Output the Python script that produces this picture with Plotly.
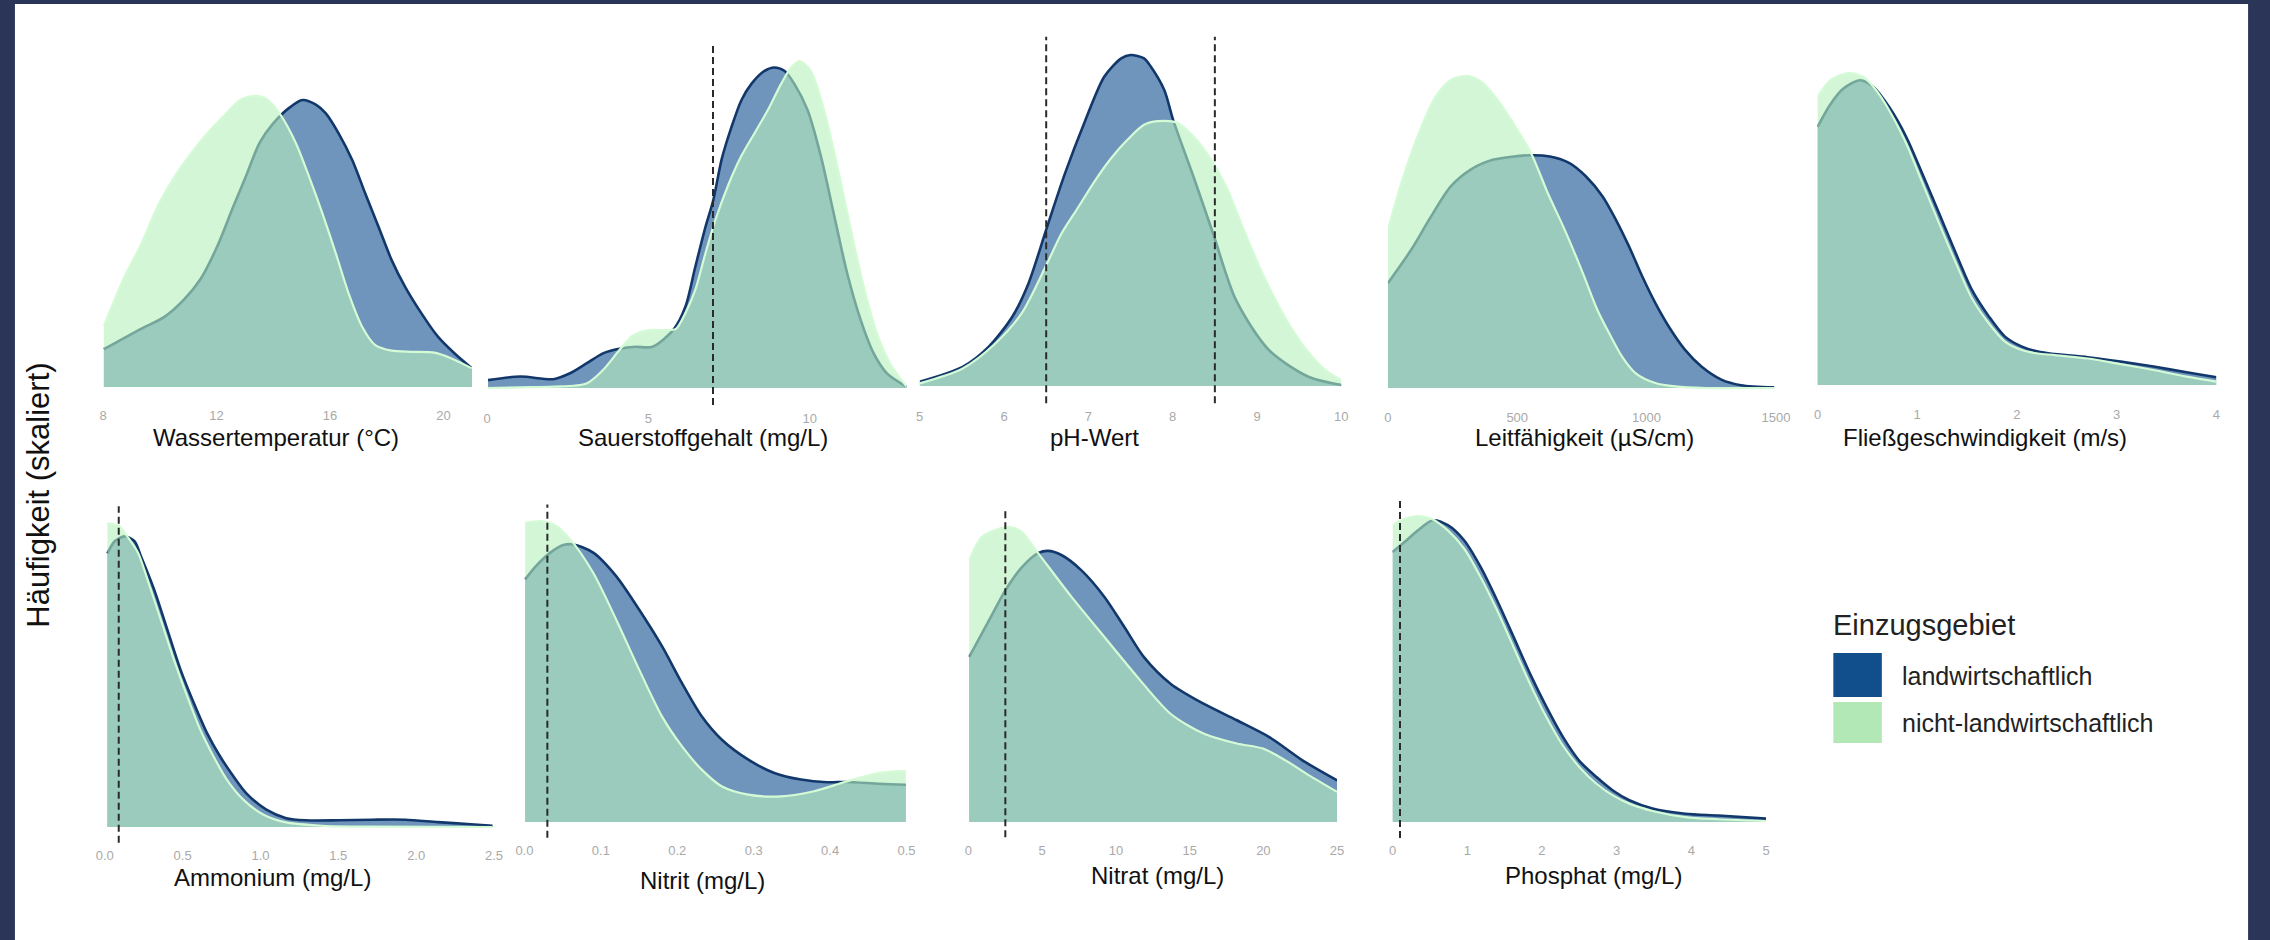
import plotly.graph_objects as go

# ------------------------------------------------------------------
# DATA  (heights = scaled density)
# ------------------------------------------------------------------
group_names = ["landwirtschaftlich", "nicht-landwirtschaftlich"]

titles = ["Wassertemperatur (°C)", "Sauerstoffgehalt (mg/L)", "pH-Wert",
          "Leitfähigkeit (µS/cm)", "Fließgeschwindigkeit (m/s)",
          "Ammonium (mg/L)", "Nitrit (mg/L)", "Nitrat (mg/L)", "Phosphat (mg/L)"]

# Wassertemperatur
wasser_x_lw = [8.03, 9.34, 10.15, 10.85, 11.43, 12.01, 12.59, 13.06, 13.52, 13.99, 14.57, 15.03,
               15.5, 15.85, 16.31, 16.78, 17.24, 17.71, 18.17, 18.64, 19.22, 19.8, 20.38, 21.0]
wasser_h_lw = [0.13, 0.20, 0.24, 0.30, 0.37, 0.48, 0.62, 0.73, 0.84, 0.905, 0.96, 0.986,
               0.97, 0.94, 0.87, 0.78, 0.665, 0.55, 0.436, 0.345, 0.253, 0.173, 0.116, 0.064]
wasser_x_nlw = [8.03, 8.76, 9.34, 9.92, 10.5, 11.08, 11.66, 12.24, 12.82, 13.29, 13.76, 14.22,
                14.8, 15.27, 15.73, 16.2, 16.66, 17.13, 17.59, 18.17, 18.87, 19.68, 20.26, 21.0]
wasser_h_nlw = [0.21, 0.38, 0.49, 0.62, 0.72, 0.80, 0.87, 0.93, 0.986, 1.0, 0.99, 0.94,
                0.837, 0.72, 0.597, 0.46, 0.32, 0.207, 0.144, 0.125, 0.121, 0.118, 0.099, 0.064]

# Sauerstoffgehalt
sauer_x_lw = [0.03, 1.03, 2.05, 2.57, 3.08, 3.59, 4.1, 4.61, 5.13, 5.79, 6.15, 6.45, 6.76, 7.01,
              7.27, 7.58, 7.88, 8.19, 8.6, 8.9, 9.21, 9.52, 9.93, 10.34, 10.75, 11.16, 11.57,
              11.98, 12.39, 13.0]
sauer_h_lw = [0.024, 0.035, 0.027, 0.045, 0.075, 0.106, 0.12, 0.126, 0.126, 0.18, 0.25, 0.37,
              0.49, 0.575, 0.70, 0.80, 0.88, 0.93, 0.97, 0.98, 0.97, 0.93, 0.85, 0.71, 0.53,
              0.35, 0.21, 0.106, 0.045, 0.004]
sauer_x_nlw = [0.03, 1.03, 2.05, 3.08, 3.59, 4.1, 4.51, 5.02, 5.53, 5.84, 6.15, 6.45, 6.76, 7.06,
               7.47, 7.88, 8.29, 8.7, 9.11, 9.42, 9.67, 10.03, 10.44, 10.85, 11.26, 11.67,
               12.08, 12.49, 13.0]
sauer_h_nlw = [0.0, 0.002, 0.004, 0.014, 0.055, 0.116, 0.16, 0.177, 0.177, 0.18, 0.23, 0.30,
               0.41, 0.51, 0.62, 0.71, 0.78, 0.85, 0.93, 0.98, 1.0, 0.97, 0.85, 0.68, 0.49,
               0.31, 0.167, 0.075, 0.004]

# pH-Wert
ph_x_lw = [5.0, 5.51, 5.82, 6.1, 6.29, 6.51, 6.72, 6.96, 7.19, 7.39, 7.5, 7.66, 7.74, 7.9,
           8.01, 8.25, 8.48, 8.75, 9.14, 9.61, 10.0]
ph_h_lw = [0.013, 0.058, 0.119, 0.21, 0.31, 0.48, 0.64, 0.80, 0.935, 0.99, 1.0, 0.99, 0.965,
           0.894, 0.80, 0.63, 0.46, 0.26, 0.109, 0.028, 0.003]
ph_x_nlw = [5.0, 5.51, 5.9, 6.21, 6.51, 6.68, 6.88, 7.07, 7.27, 7.46, 7.66, 7.82, 8.05, 8.25,
            8.44, 8.64, 8.83, 9.03, 9.22, 9.42, 9.62, 9.81, 10.0]
ph_h_nlw = [0.008, 0.053, 0.129, 0.22, 0.37, 0.46, 0.54, 0.617, 0.688, 0.743, 0.789, 0.80,
            0.796, 0.753, 0.69, 0.60, 0.48, 0.36, 0.26, 0.17, 0.099, 0.048, 0.018]

# Leitfähigkeit
leit_x_lw = [0, 90, 167, 243, 320, 409, 549, 626, 702, 766, 830, 881, 932, 983, 1034, 1085,
             1148, 1212, 1289, 1365, 1493]
leit_h_lw = [0.336, 0.443, 0.55, 0.646, 0.70, 0.732, 0.746, 0.742, 0.721, 0.678, 0.614, 0.54,
             0.454, 0.358, 0.272, 0.198, 0.123, 0.069, 0.027, 0.009, 0.002]
leit_x_nlw = [0, 57, 121, 185, 248, 312, 363, 427, 491, 555, 618, 682, 753, 810, 855, 906,
              957, 1034, 1111, 1230, 1493]
leit_h_nlw = [0.507, 0.67, 0.82, 0.935, 0.99, 1.0, 0.98, 0.92, 0.84, 0.75, 0.625, 0.51, 0.37,
              0.25, 0.176, 0.10, 0.048, 0.016, 0.005, 0.0, 0.0]

# Fließgeschwindigkeit
fliess_x_lw = [0, 0.13, 0.26, 0.43, 0.56, 0.72, 0.89, 1.05, 1.22, 1.39, 1.55, 1.72, 1.88,
               2.05, 2.21, 2.38, 2.71, 3.04, 3.37, 3.7, 4.0]
fliess_h_lw = [0.827, 0.90, 0.95, 0.977, 0.955, 0.89, 0.795, 0.678, 0.55, 0.42, 0.304, 0.219,
               0.155, 0.123, 0.107, 0.099, 0.089, 0.075, 0.059, 0.041, 0.025]
fliess_x_nlw = [0, 0.13, 0.31, 0.46, 0.59, 0.72, 0.89, 1.05, 1.22, 1.39, 1.55, 1.72, 1.88,
                2.05, 2.21, 2.38, 2.71, 3.04, 3.37, 3.7, 4.0]
fliess_h_nlw = [0.923, 0.977, 1.0, 0.987, 0.944, 0.88, 0.774, 0.65, 0.518, 0.39, 0.277, 0.197,
                0.139, 0.112, 0.101, 0.096, 0.085, 0.067, 0.048, 0.027, 0.011]

# Ammonium
amm_x_lw = [0.017, 0.064, 0.127, 0.191, 0.233, 0.318, 0.402, 0.487, 0.572, 0.657, 0.741,
            0.826, 0.911, 1.038, 1.165, 1.29, 1.5, 1.72, 1.93, 2.14, 2.35, 2.49]
amm_h_lw = [0.90, 0.94, 0.956, 0.94, 0.89, 0.78, 0.649, 0.517, 0.408, 0.309, 0.232, 0.167,
            0.11, 0.057, 0.029, 0.022, 0.022, 0.024, 0.024, 0.016, 0.009, 0.004]
amm_x_nlw = [0.017, 0.09, 0.153, 0.216, 0.275, 0.36, 0.445, 0.53, 0.614, 0.699, 0.784, 0.89,
             1.017, 1.165, 1.4, 1.72, 2.49]
amm_h_nlw = [1.0, 0.99, 0.95, 0.90, 0.814, 0.682, 0.55, 0.43, 0.32, 0.232, 0.156, 0.09,
             0.041, 0.015, 0.004, 0.001, 0.0]

# Nitrit
nitrit_x_lw = [0.001, 0.015, 0.034, 0.051, 0.064, 0.09, 0.12, 0.15, 0.18, 0.206, 0.232, 0.258,
               0.293, 0.327, 0.362, 0.396, 0.422, 0.465, 0.499]
nitrit_h_lw = [0.806, 0.85, 0.895, 0.92, 0.922, 0.895, 0.817, 0.706, 0.584, 0.462, 0.351,
               0.274, 0.207, 0.163, 0.141, 0.132, 0.133, 0.127, 0.124]
nitrit_x_nlw = [0.001, 0.02, 0.038, 0.06, 0.09, 0.12, 0.15, 0.18, 0.206, 0.232, 0.258, 0.293,
                0.336, 0.379, 0.422, 0.465, 0.499]
nitrit_h_nlw = [0.994, 1.0, 0.989, 0.939, 0.828, 0.673, 0.507, 0.351, 0.252, 0.174, 0.119,
                0.091, 0.085, 0.102, 0.135, 0.163, 0.169]

# Nitrat
nitrat_x_lw = [0.05, 1.4, 2.5, 3.63, 4.75, 5.4, 6.3, 7.66, 9.22, 10.57, 11.9, 13.7, 15.94,
               18.2, 20.4, 22.65, 25.0]
nitrat_h_lw = [0.56, 0.684, 0.785, 0.864, 0.912, 0.919, 0.905, 0.853, 0.763, 0.661, 0.559,
               0.469, 0.401, 0.345, 0.288, 0.209, 0.141]
nitrat_x_nlw = [0.05, 0.9, 2.06, 2.84, 3.63, 4.75, 6.99, 9.22, 11.45, 13.7, 15.94, 18.2, 19.97,
                21.5, 23.1, 25.0]
nitrat_h_nlw = [0.887, 0.966, 0.994, 1.0, 0.983, 0.91, 0.763, 0.627, 0.492, 0.367, 0.30, 0.266,
                0.249, 0.209, 0.158, 0.102]

# Phosphat
phos_x_lw = [0, 0.16, 0.34, 0.54, 0.74, 0.96, 1.18, 1.4, 1.62, 1.84, 2.06, 2.28, 2.5, 2.73,
             2.95, 3.17, 3.48, 3.92, 4.36, 5.0]
phos_h_lw = [0.882, 0.915, 0.953, 0.986, 0.97, 0.92, 0.833, 0.724, 0.605, 0.485, 0.376, 0.278,
             0.20, 0.147, 0.103, 0.071, 0.044, 0.027, 0.021, 0.011]
phos_x_nlw = [0, 0.16, 0.34, 0.52, 0.74, 0.96, 1.18, 1.4, 1.62, 1.84, 2.06, 2.28, 2.5, 2.73,
              2.95, 3.17, 3.48, 3.92, 4.36, 5.0]
phos_h_nlw = [0.97, 0.991, 1.0, 0.991, 0.953, 0.893, 0.80, 0.692, 0.572, 0.452, 0.343, 0.25,
              0.18, 0.125, 0.087, 0.06, 0.036, 0.016, 0.009, 0.003]

# Reference / threshold values (dashed lines)
thresholds = [[], [7.0], [6.5, 8.5], [], [], [0.09], [0.03], [2.5], [0.1]]

# Tick values and labels
tick_vals = [[8, 12, 16, 20], [0, 5, 10], [5, 6, 7, 8, 9, 10], [0, 500, 1000, 1500],
             [0, 1, 2, 3, 4], [0, 0.5, 1.0, 1.5, 2.0, 2.5], [0, 0.1, 0.2, 0.3, 0.4, 0.5],
             [0, 5, 10, 15, 20, 25], [0, 1, 2, 3, 4, 5]]
tick_text = [["8", "12", "16", "20"], ["0", "5", "10"], ["5", "6", "7", "8", "9", "10"],
             ["0", "500", "1000", "1500"], ["0", "1", "2", "3", "4"],
             ["0.0", "0.5", "1.0", "1.5", "2.0", "2.5"],
             ["0.0", "0.1", "0.2", "0.3", "0.4", "0.5"],
             ["0", "5", "10", "15", "20", "25"], ["0", "1", "2", "3", "4", "5"]]

x_ranges = [[8, 21], [0, 13], [5, 10], [0, 1500], [0, 4], [0, 2.5], [0, 0.5], [0, 25], [0, 5]]

series = [
    (wasser_x_lw, wasser_h_lw, wasser_x_nlw, wasser_h_nlw),
    (sauer_x_lw, sauer_h_lw, sauer_x_nlw, sauer_h_nlw),
    (ph_x_lw, ph_h_lw, ph_x_nlw, ph_h_nlw),
    (leit_x_lw, leit_h_lw, leit_x_nlw, leit_h_nlw),
    (fliess_x_lw, fliess_h_lw, fliess_x_nlw, fliess_h_nlw),
    (amm_x_lw, amm_h_lw, amm_x_nlw, amm_h_nlw),
    (nitrit_x_lw, nitrit_h_lw, nitrit_x_nlw, nitrit_h_nlw),
    (nitrat_x_lw, nitrat_h_lw, nitrat_x_nlw, nitrat_h_nlw),
    (phos_x_lw, phos_h_lw, phos_x_nlw, phos_h_nlw),
]

# ------------------------------------------------------------------
# LAYOUT GEOMETRY (pixels in a 2270 x 940 page)
# ------------------------------------------------------------------
W, H = 2270, 940
geom = [
    dict(px0=95.0, px1=467.7, base=387, s=291, tx=270, ty=438),
    dict(px0=483.0, px1=906.8, base=388, s=327, tx=701, ty=438),
    dict(px0=920.0, px1=1346.0, base=386, s=331, tx=1097, ty=438),
    dict(px0=1393.0, px1=1785.0, base=388, s=312, tx=1592, ty=438),
    dict(px0=1827.0, px1=2230.0, base=385, s=312, tx=1996, ty=438),
    dict(px0=96.7, px1=490.0, base=827, s=304, tx=266, ty=877),
    dict(px0=520.7, px1=906.7, base=822, s=301, tx=701, ty=880),
    dict(px0=969.3, px1=1341.7, base=822, s=295, tx=1160, ty=875),
    dict(px0=1397.7, px1=1775.0, base=822, s=306, tx=1601, ty=875),
]
Y_LOW, Y_HIGH = -0.055, 1.1
DASH_LOW, DASH_HIGH = -0.052, 1.055

FONT = "Liberation Sans, Arial, Helvetica, sans-serif"
BLUE_FILL = "rgba(16,78,145,0.6)"
BLUE_LINE = "#12386b"
GREEN_FILL = "rgba(182,240,186,0.6)"
GREEN_LINE = "#d4fbd6"
FRAME = "#2b3558"

fig = go.Figure()
layout = dict(
    width=W, height=H,
    margin=dict(l=0, r=0, t=0, b=0),
    paper_bgcolor=FRAME,
    plot_bgcolor="rgba(0,0,0,0)",
    showlegend=False,
    font=dict(family=FONT),
)

annotations = []
for i, g in enumerate(geom):
    n = i + 1
    xa = "x" if n == 1 else f"x{n}"
    ya = "y" if n == 1 else f"y{n}"
    xk = "xaxis" if n == 1 else f"xaxis{n}"
    yk = "yaxis" if n == 1 else f"yaxis{n}"

    xl, hl, xn, hn = series[i]
    fig.add_trace(go.Scatter(
        x=xl, y=hl, mode="lines", name=group_names[0], fill="tozeroy",
        fillcolor=BLUE_FILL, line=dict(color=BLUE_LINE, width=2.6, shape="spline", smoothing=0.8),
        xaxis=xa, yaxis=ya, hoverinfo="skip"))
    fig.add_trace(go.Scatter(
        x=xn, y=hn, mode="lines", name=group_names[1], fill="tozeroy",
        fillcolor=GREEN_FILL, line=dict(color=GREEN_LINE, width=2.2, shape="spline", smoothing=0.8),
        xaxis=xa, yaxis=ya, hoverinfo="skip"))
    for t in thresholds[i]:
        fig.add_trace(go.Scatter(
            x=[t, t], y=[DASH_LOW, DASH_HIGH], mode="lines",
            line=dict(color="#2a2a2a", width=2, dash="7px,4px"),
            xaxis=xa, yaxis=ya, hoverinfo="skip"))

    bottom_px = g["base"] - Y_LOW * g["s"]
    top_px = g["base"] - Y_HIGH * g["s"]
    layout[xk] = dict(
        domain=[g["px0"] / W, g["px1"] / W], range=x_ranges[i], anchor=ya,
        showgrid=False, zeroline=False, showline=False,
        tickmode="array", tickvals=tick_vals[i], ticktext=tick_text[i],
        ticks="outside", ticklen=0, tickcolor="rgba(0,0,0,0)",
        tickfont=dict(size=13, color="#a9a9a9", family=FONT),
    )
    layout[yk] = dict(
        domain=[1 - bottom_px / H, 1 - top_px / H], range=[Y_LOW, Y_HIGH], anchor=xa,
        showgrid=False, zeroline=False, showline=False, showticklabels=False, ticks="",
    )
    annotations.append(dict(
        text=titles[i], x=g["tx"] / W, y=1 - g["ty"] / H, xref="paper", yref="paper",
        xanchor="center", yanchor="middle", showarrow=False,
        font=dict(size=24, color="#111111", family=FONT)))

# y axis title
annotations.append(dict(
    text="Häufigkeit (skaliert)", x=30 / W, y=1 - 495 / H, xref="paper", yref="paper",
    xanchor="center", yanchor="middle", textangle=-90, showarrow=False,
    font=dict(size=31, color="#111111", family=FONT)))

# legend (manual)
annotations.append(dict(
    text="Einzugsgebiet", x=1841 / W, y=1 - 625 / H, xref="paper", yref="paper",
    xanchor="left", yanchor="middle", showarrow=False,
    font=dict(size=29, color="#222222", family=FONT)))
annotations.append(dict(
    text=group_names[0], x=1910 / W, y=1 - 676 / H, xref="paper", yref="paper",
    xanchor="left", yanchor="middle", showarrow=False,
    font=dict(size=25, color="#222222", family=FONT)))
annotations.append(dict(
    text=group_names[1], x=1910 / W, y=1 - 723 / H, xref="paper", yref="paper",
    xanchor="left", yanchor="middle", showarrow=False,
    font=dict(size=25, color="#222222", family=FONT)))

shapes = [
    dict(type="rect", xref="paper", yref="paper", x0=6 / W, x1=2262 / W, y0=0, y1=1 - 4 / H,
         fillcolor="white", line=dict(width=0), layer="below"),
    dict(type="rect", xref="paper", yref="paper", x0=1843 / W, x1=1892 / W,
         y0=1 - 697 / H, y1=1 - 653 / H, fillcolor="#114e8c", line=dict(width=0)),
    dict(type="rect", xref="paper", yref="paper", x0=1843 / W, x1=1892 / W,
         y0=1 - 743 / H, y1=1 - 702 / H, fillcolor="#b2e8b6", line=dict(width=0)),
]

layout["annotations"] = annotations
layout["shapes"] = shapes
fig.update_layout(**layout)

fig.write_html("out.html")
